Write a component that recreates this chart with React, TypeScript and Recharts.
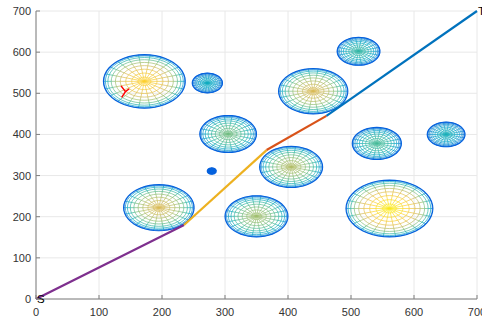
import React from "react"
import { ComposedChart, Line, Scatter, XAxis, YAxis, CartesianGrid } from "recharts"

const ticks = [0, 100, 200, 300, 400, 500, 600, 700]

// spheres seen from above: centre, radius (data units), colormap value at the top
const ballX = [172, 272, 440, 512, 305, 541, 651, 405, 195, 350, 561]
const ballY = [529, 525, 505, 602, 401, 378, 400, 321, 222, 201, 220]
const ballR = [65, 24, 55, 34, 45, 39, 30, 50, 56, 50, 69]
const ballTop = [0.88, 0.4, 0.75, 0.48, 0.58, 0.52, 0.42, 0.68, 0.75, 0.65, 0.95]

// small filled sphere
const dotX = [279]
const dotY = [311]
const dotR = [6]

// S -> T path, one colour per leg
const pathX = [0, 235, 366, 461, 700]
const pathY = [0, 180, 362, 445, 700]
const pathColors = ["#7e2f8e", "#edb120", "#d95319", "#0072bd"]

// red fork marker: centre then three tips
const markX = [142, 135, 148, 136]
const markY = [504, 518, 511, 490]

const labelX = [0, 700]
const labelY = [0, 700]
const labelText = ["S", "T"]

const parula = ["#352a87", "#0363e1", "#1485d4", "#06a7c6", "#38b99e", "#92bf73", "#d9ba56", "#fcce2e", "#f9fb0e"]

function colormap(t: number) {
  const v = Math.max(0, Math.min(1, t)) * (parula.length - 1)
  const i = Math.min(parula.length - 2, Math.floor(v))
  const f = v - i
  const a = parseInt(parula[i].slice(1), 16)
  const b = parseInt(parula[i + 1].slice(1), 16)
  const ch = (s: number) => Math.round(((a >> s) & 255) * (1 - f) + ((b >> s) & 255) * f)
  return `rgb(${ch(16)},${ch(8)},${ch(0)})`
}

type Seg = { key: string; data: { x: number; y: number | null }[]; color: string; width: number }

const EDGE = 0.1
const RINGS = 10
const SPOKES = 22

function sphereMesh(id: string, cx: number, cy: number, r: number, top: number, width: number): Seg[] {
  const out: Seg[] = []
  for (let k = 1; k <= RINGS; k++) {
    const phi = (k * Math.PI) / 2 / RINGS
    const phi0 = ((k - 1) * Math.PI) / 2 / RINGS
    const rho = r * Math.sin(phi)
    const rho0 = r * Math.sin(phi0)
    const mid = (phi + phi0) / 2
    const spokes: { x: number; y: number | null }[] = []
    for (let s = 0; s < SPOKES; s++) {
      const a = (s * 2 * Math.PI) / SPOKES
      spokes.push({ x: cx + rho0 * Math.cos(a), y: cy + rho0 * Math.sin(a) })
      spokes.push({ x: cx + rho * Math.cos(a), y: cy + rho * Math.sin(a) })
      spokes.push({ x: cx + rho * Math.cos(a), y: null })
    }
    out.push({ key: `${id}-s${k}`, data: spokes, color: colormap(EDGE + (top - EDGE) * Math.cos(mid)), width })
    const ring = []
    for (let j = 0; j <= 48; j++) {
      const a = (j * 2 * Math.PI) / 48
      ring.push({ x: cx + rho * Math.cos(a), y: cy + rho * Math.sin(a) })
    }
    const edge = k === RINGS
    out.push({
      key: `${id}-r${k}`,
      data: ring,
      color: colormap(edge ? 0.12 : EDGE + (top - EDGE) * Math.cos(phi)),
      width: edge ? width * 1.6 : width,
    })
  }
  return out
}

const meshes: Seg[] = [
  ...ballX.flatMap((x, i) => sphereMesh(`b${i}`, x, ballY[i], ballR[i], ballTop[i], 0.7)),
  ...dotX.flatMap((x, i) => sphereMesh(`d${i}`, x, dotY[i], dotR[i], 0.14, 1.6)),
]

const legs = pathColors.map((c, i) => ({
  color: c,
  data: [
    { x: pathX[i], y: pathY[i] },
    { x: pathX[i + 1], y: pathY[i + 1] },
  ],
}))

const markData = markX.slice(1).flatMap((x, i) => [
  { x: markX[0], y: markY[0] },
  { x, y: markY[i + 1] },
  { x, y: null },
])

const labels = labelX.map((x, i) => ({ x, y: labelY[i], text: labelText[i] }))

const font = "'Liberation Sans', Arial, sans-serif"

const XTick = ({ x, y, payload }: any) => (
  <g>
    <line x1={x} x2={x} y1={y} y2={y - 4} stroke="#808080" />
    <text x={x} y={y + 17} textAnchor="middle" fontSize={11} fill="#333" fontFamily={font}>
      {payload.value}
    </text>
  </g>
)

const YTick = ({ x, y, payload }: any) => (
  <g>
    <line x1={x} x2={x + 4} y1={y} y2={y} stroke="#808080" />
    <text x={x - 5} y={y + 4} textAnchor="end" fontSize={11} fill="#333" fontFamily={font}>
      {payload.value}
    </text>
  </g>
)

const LabelShape = ({ cx, cy, payload }: any) => (
  <text x={cx + 1} y={cy + 4} fontSize={11.5} fill="#000" fontFamily={font}>
    {payload.text}
  </text>
)

export default function App() {
  return (
    <div style={{ position: "absolute", left: 0, top: 0, background: "#fff" }}>
      <ComposedChart width={482} height={322} margin={{ top: 11, right: 5, bottom: 0, left: 0 }}>
        <CartesianGrid stroke="#e8e8e8" />
        <XAxis
          dataKey="x"
          type="number"
          domain={[0, 700]}
          ticks={ticks}
          height={23}
          tickSize={0}
          tickMargin={0}
          tickLine={false}
          axisLine={{ stroke: "#808080" }}
          tick={<XTick />}
          interval={0}
        />
        <YAxis
          type="number"
          domain={[0, 700]}
          ticks={ticks}
          width={36}
          tickSize={0}
          tickMargin={0}
          tickLine={false}
          axisLine={{ stroke: "#808080" }}
          tick={<YTick />}
          interval={0}
        />
        {meshes.map((m) => (
          <Line
            key={m.key}
            data={m.data}
            dataKey="y"
            stroke={m.color}
            strokeWidth={m.width}
            dot={false}
            activeDot={false}
            isAnimationActive={false}
            connectNulls={false}
            legendType="none"
          />
        ))}
        {legs.map((l, i) => (
          <Line
            key={`leg${i}`}
            data={l.data}
            dataKey="y"
            stroke={l.color}
            strokeWidth={2.2}
            dot={false}
            activeDot={false}
            isAnimationActive={false}
          />
        ))}
        <Line
          data={markData}
          dataKey="y"
          stroke="#ff0000"
          strokeWidth={1.5}
          dot={false}
          activeDot={false}
          isAnimationActive={false}
          connectNulls={false}
        />
        <Scatter data={labels} dataKey="y" shape={<LabelShape />} isAnimationActive={false} />
      </ComposedChart>
    </div>
  )
}
